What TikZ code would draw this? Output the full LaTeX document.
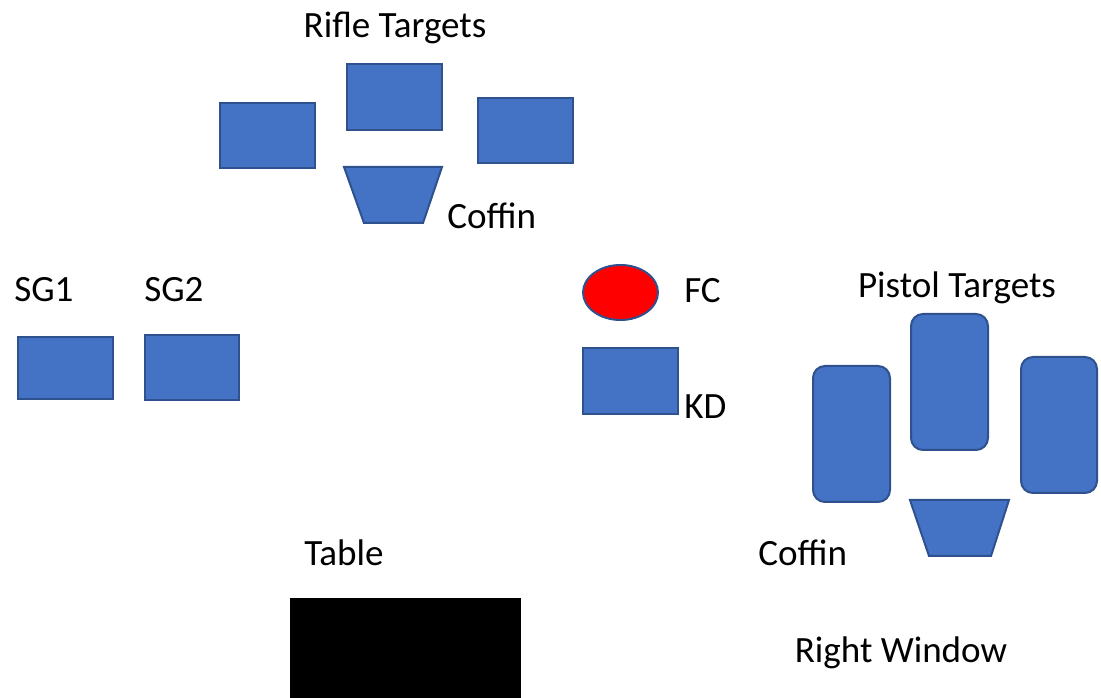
\documentclass[tikz,border=0pt]{standalone}
\usepackage{fontspec}
\setmainfont{Carlito}
\begin{document}
\begin{tikzpicture}[x=0.75pt,y=-0.75pt,
  blk/.style={draw=blueedge,fill=bluefill,line width=1.5pt},
  rnd/.style={blk,rounded corners=9pt},
  lbl/.style={font=\fontsize{27.8}{33}\selectfont,inner sep=0pt,anchor=center}]
\definecolor{bluefill}{HTML}{4472C4}
\definecolor{blueedge}{HTML}{2F528F}
\useasboundingbox (0,0) rectangle (1101,698);
% rifle targets
\node[lbl] (rifleL) at (395,28) {Rifle Targets};
\draw[blk] (220,103) rectangle (315,168);
\draw[blk] (347,64) rectangle (442,130);
\draw[blk] (478,98) rectangle (573,163);
\draw[blk] (344,167) -- (442,167) -- (423,223) -- (364,223) -- cycle;
\node[lbl,anchor=west] (coffin1) at (447,216) {Coffin};
% shotguns
\node[lbl,anchor=west] (sg1) at (14,290) {SG1};
\node[lbl,anchor=west] (sg2) at (144,290) {SG2};
\draw[blk] (18,337) rectangle (113,399);
\draw[blk] (145,335) rectangle (239,400);
% FC and KD
\draw[draw=blueedge,fill=red,line width=1.5pt] (620.5,292.5) ellipse [x radius=37.5, y radius=27.5];
\node[lbl,anchor=west] (fc) at (684,291) {FC};
\draw[blk] (583,348) rectangle (678,414);
\node[lbl,anchor=west] (kd) at (684,407) {KD};
% pistol targets
\node[lbl] (pistolL) at (957,288) {Pistol Targets};
\draw[rnd] (813,366) rectangle (890,502);
\draw[rnd] (911,314) rectangle (988,450);
\draw[rnd] (1021,357) rectangle (1097,493);
\draw[blk] (910,500) -- (1009,500) -- (991,556) -- (929,556) -- cycle;
\node[lbl,anchor=west] (coffin2) at (758,553) {Coffin};
% table
\node[lbl,anchor=west] (tableL) at (304,553) {Table};
\fill[black] (290,598) rectangle (521,698);
\node[lbl] (window) at (901,653) {Right Window};
\end{tikzpicture}
\end{document}
